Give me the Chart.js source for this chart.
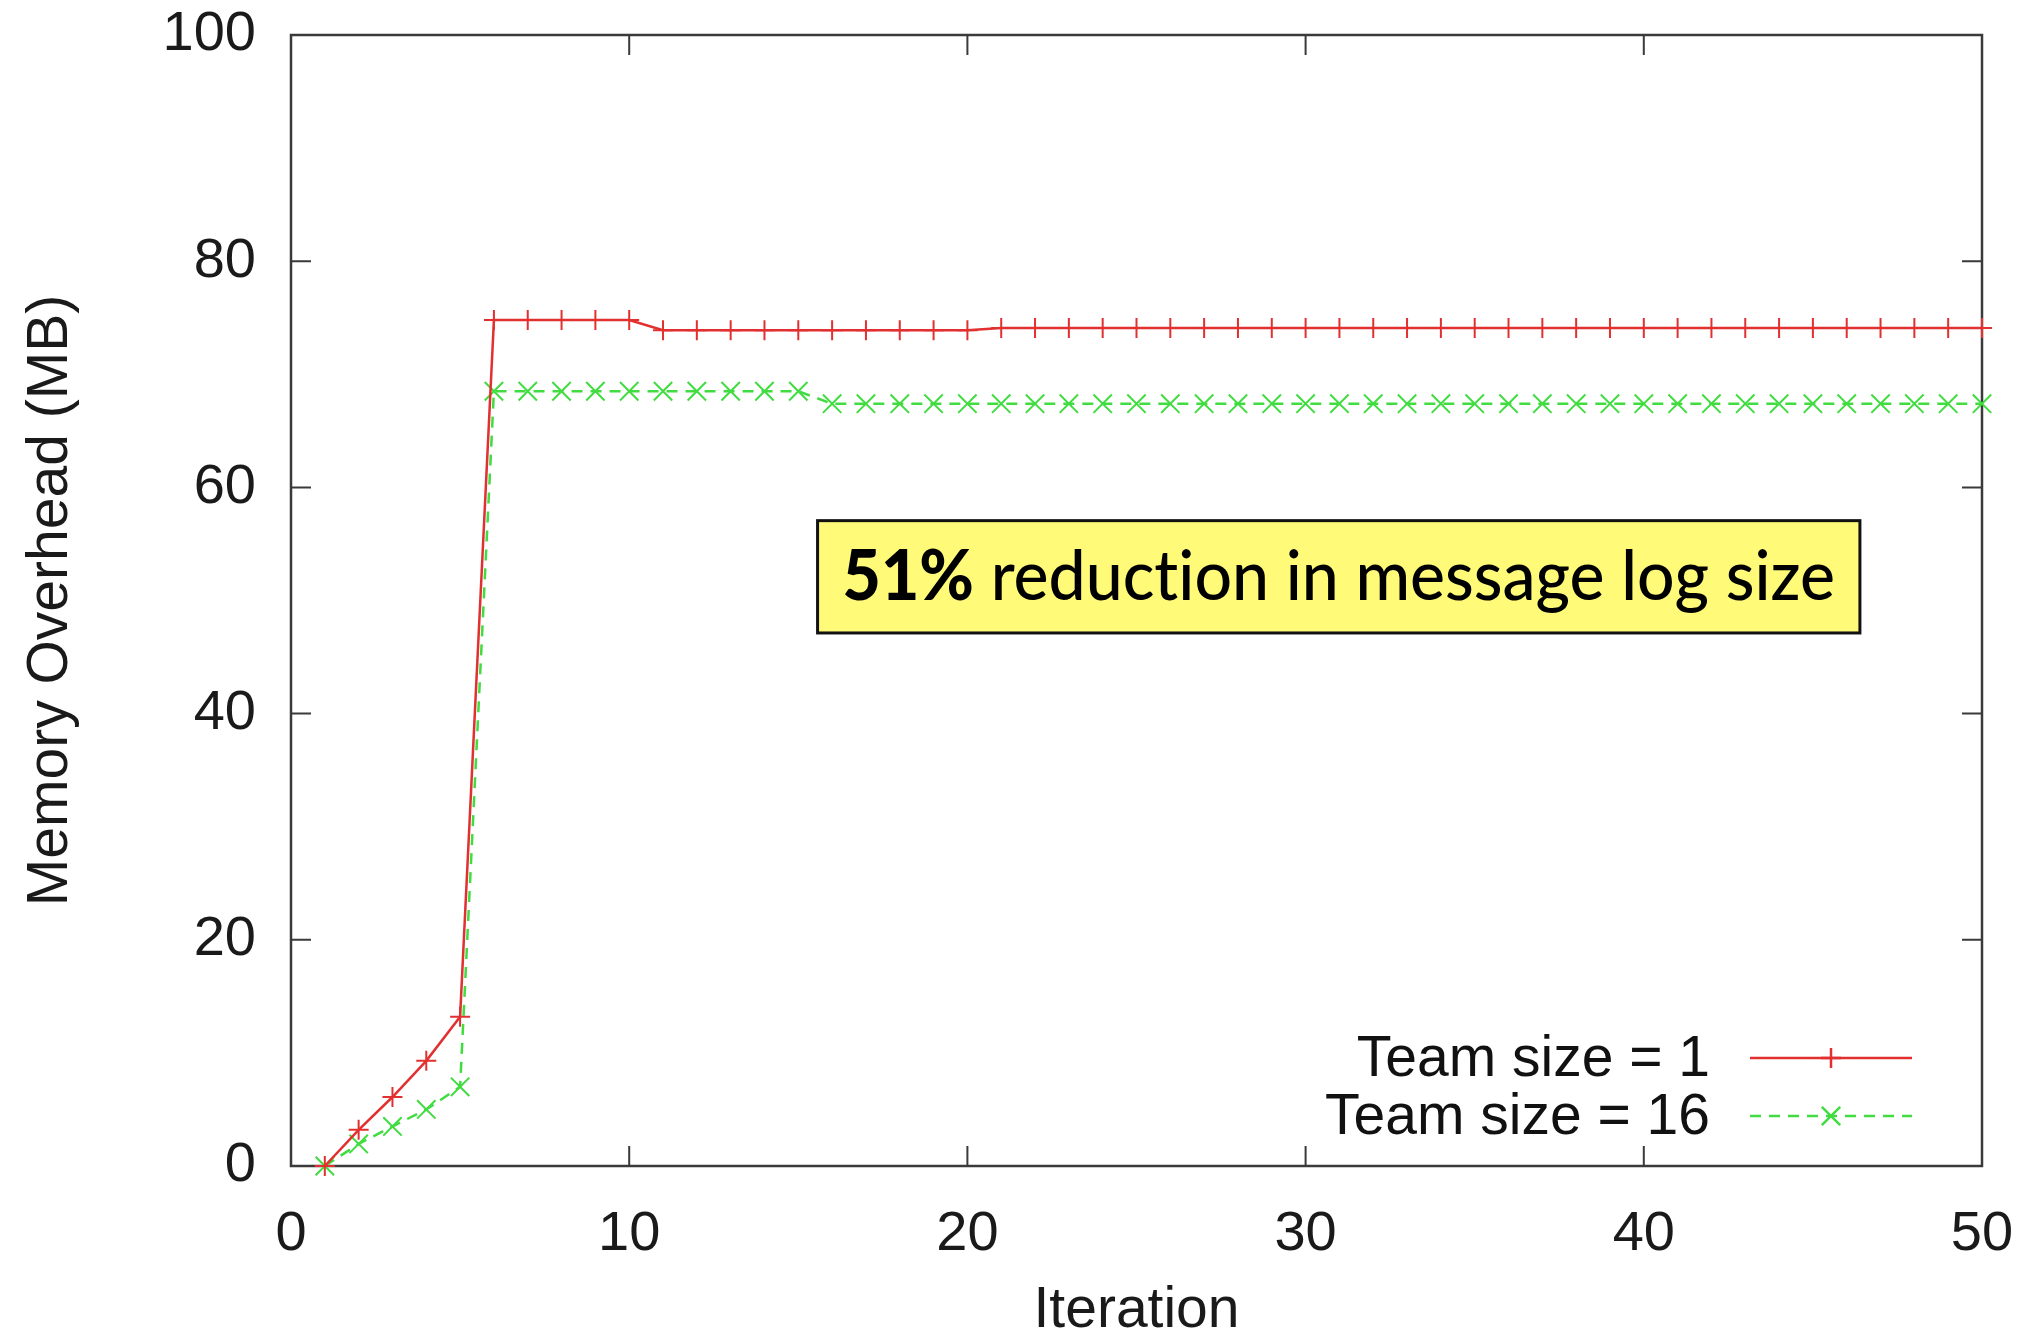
<!DOCTYPE html>
<html>
<head>
<meta charset="utf-8">
<script src="https://cdn.jsdelivr.net/npm/chart.js@4.4.1/dist/chart.umd.min.js"></script>
<style>
  html, body { margin: 0; padding: 0; background: #fff; }
  #wrap { width: 2034px; height: 1340px; }
</style>
</head>
<body>
<div id="wrap"><canvas id="chart" width="2034" height="1340"></canvas></div>
<script>
// data
const iterations = [1, 2, 3, 4, 5, 6, 7, 8, 9, 10,
  11, 12, 13, 14, 15, 16, 17, 18, 19, 20,
  21, 22, 23, 24, 25, 26, 27, 28, 29, 30,
  31, 32, 33, 34, 35, 36, 37, 38, 39, 40,
  41, 42, 43, 44, 45, 46, 47, 48, 49, 50];

const teamSize1 = [0, 3.2, 6.1, 9.3, 13.2, 74.8, 74.8, 74.8, 74.8, 74.8,
  73.9, 73.9, 73.9, 73.9, 73.9, 73.9, 73.9, 73.9, 73.9, 73.9,
  74.1, 74.1, 74.1, 74.1, 74.1, 74.1, 74.1, 74.1, 74.1, 74.1,
  74.1, 74.1, 74.1, 74.1, 74.1, 74.1, 74.1, 74.1, 74.1, 74.1,
  74.1, 74.1, 74.1, 74.1, 74.1, 74.1, 74.1, 74.1, 74.1, 74.1];

const teamSize16 = [0, 1.95, 3.5, 5.0, 7.0, 68.5, 68.5, 68.5, 68.5, 68.5,
  68.5, 68.5, 68.5, 68.5, 68.5, 67.4, 67.4, 67.4, 67.4, 67.4,
  67.4, 67.4, 67.4, 67.4, 67.4, 67.4, 67.4, 67.4, 67.4, 67.4,
  67.4, 67.4, 67.4, 67.4, 67.4, 67.4, 67.4, 67.4, 67.4, 67.4,
  67.4, 67.4, 67.4, 67.4, 67.4, 67.4, 67.4, 67.4, 67.4, 67.4];

const seriesNames = ['Team size = 1', 'Team size = 16'];
const xTickValues = [0, 10, 20, 30, 40, 50];
const yTickValues = [0, 20, 40, 60, 80, 100];

const noteBold = '51%';
const noteText = ' reduction in message log size';

const RED = '#e23030';
const GREEN = '#40dc40';
const FONT = 'Liberation Sans, Arial, Helvetica, sans-serif';

// gnuplot style frame: box with inward ticks, mirrored
const framePlugin = {
  id: 'frame',
  beforeDatasetsDraw(chart) {
    const { ctx, chartArea: a, scales } = chart;
    const len = 20;
    ctx.save();
    ctx.strokeStyle = '#3a3a3a';
    ctx.lineWidth = 2.5;
    ctx.strokeRect(a.left, a.top, a.right - a.left, a.bottom - a.top);
    ctx.lineWidth = 2;
    ctx.beginPath();
    xTickValues.forEach(v => {
      const px = scales.x.getPixelForValue(v);
      ctx.moveTo(px, a.bottom); ctx.lineTo(px, a.bottom - len);
      ctx.moveTo(px, a.top); ctx.lineTo(px, a.top + len);
    });
    yTickValues.forEach(v => {
      const py = scales.y.getPixelForValue(v);
      ctx.moveTo(a.left, py); ctx.lineTo(a.left + len, py);
      ctx.moveTo(a.right, py); ctx.lineTo(a.right - len, py);
    });
    ctx.stroke();
    ctx.restore();
  }
};

function drawMarker(ctx, style, x, y, r) {
  ctx.beginPath();
  if (style === 'cross') {
    ctx.moveTo(x - r, y); ctx.lineTo(x + r, y);
    ctx.moveTo(x, y - r); ctx.lineTo(x, y + r);
  } else {
    const d = r * Math.SQRT1_2;
    ctx.moveTo(x - d, y - d); ctx.lineTo(x + d, y + d);
    ctx.moveTo(x - d, y + d); ctx.lineTo(x + d, y - d);
  }
  ctx.setLineDash([]);
  ctx.stroke();
}

// legend in the lower right, text then line sample
const keyPlugin = {
  id: 'key',
  afterDraw(chart) {
    const { ctx, chartArea: a } = chart;
    const rows = [a.bottom - 108, a.bottom - 50];
    ctx.save();
    ctx.font = '57px ' + FONT;
    ctx.textAlign = 'right';
    ctx.textBaseline = 'middle';
    chart.data.datasets.forEach((ds, i) => {
      const y = rows[i];
      ctx.fillStyle = '#111';
      ctx.fillText(ds.label, a.right - 272, y + 2);
      const x0 = a.right - 232, x1 = a.right - 70;
      ctx.strokeStyle = ds.borderColor;
      ctx.lineWidth = ds.borderWidth;
      ctx.setLineDash(ds.borderDash || []);
      ctx.beginPath();
      ctx.moveTo(x0, y); ctx.lineTo(x1, y);
      ctx.stroke();
      drawMarker(ctx, ds.pointStyle, (x0 + x1) / 2, y, ds.pointRadius);
    });
    ctx.restore();
  }
};

// yellow call-out box, placed in data coordinates
const noteBox = { x0: 15.57, x1: 46.39, y0: 57.06, y1: 47.13 };
const notePlugin = {
  id: 'note',
  afterDraw(chart) {
    const { ctx, scales } = chart;
    const l = scales.x.getPixelForValue(noteBox.x0);
    const r = scales.x.getPixelForValue(noteBox.x1);
    const t = scales.y.getPixelForValue(noteBox.y0);
    const b = scales.y.getPixelForValue(noteBox.y1);
    ctx.save();
    ctx.fillStyle = '#fffa78';
    ctx.fillRect(l, t, r - l, b - t);
    ctx.strokeStyle = '#111';
    ctx.lineWidth = 3;
    ctx.strokeRect(l, t, r - l, b - t);

    if ('textRendering' in ctx) ctx.textRendering = 'optimizeSpeed';
    const boldFont = '900 70px Lato, "Noto Sans", sans-serif';
    const regFont = '500 70px Lato, "Noto Sans", sans-serif';
    ctx.font = boldFont;
    const wBold = ctx.measureText(noteBold).width;
    ctx.font = regFont;
    const wReg = ctx.measureText(noteText).width;
    const target = r - l - 50;
    const sx = target / (wBold + wReg);
    ctx.translate(l + 25, t + 79);
    ctx.scale(sx, 1);
    ctx.fillStyle = '#000';
    ctx.textBaseline = 'alphabetic';
    ctx.textAlign = 'left';
    ctx.font = boldFont;
    ctx.fillText(noteBold, 0, 0);
    ctx.font = regFont;
    ctx.fillText(noteText, wBold, 0);
    ctx.restore();
  }
};

const tickFont = { family: FONT, size: 56 };
const titleFont = { family: FONT, size: 57, lineHeight: 1 };

new Chart(document.getElementById('chart').getContext('2d'), {
  type: 'line',
  data: {
    datasets: [
      {
        label: seriesNames[0],
        data: iterations.map((it, i) => ({ x: it, y: teamSize1[i] })),
        borderColor: RED,
        backgroundColor: RED,
        borderWidth: 2.5,
        pointStyle: 'cross',
        pointRadius: 10,
        pointBorderWidth: 2,
        pointBorderColor: RED,
        fill: false,
        tension: 0,
        clip: false
      },
      {
        label: seriesNames[1],
        data: iterations.map((it, i) => ({ x: it, y: teamSize16[i] })),
        borderColor: GREEN,
        backgroundColor: GREEN,
        borderWidth: 2.5,
        borderDash: [11, 8],
        pointStyle: 'crossRot',
        pointRadius: 13,
        pointBorderWidth: 2,
        pointBorderColor: GREEN,
        fill: false,
        tension: 0,
        clip: false
      }
    ]
  },
  options: {
    responsive: false,
    animation: false,
    layout: { padding: { top: 35, right: 52, left: 0, bottom: 0 } },
    plugins: {
      legend: { display: false },
      tooltip: { enabled: false }
    },
    scales: {
      x: {
        type: 'linear',
        min: 0,
        max: 50,
        afterFit: (scale) => {
          scale.height = 174;
          scale.paddingLeft = 0;
          scale.paddingRight = 0;
        },
        afterBuildTicks: (scale) => { scale.ticks = xTickValues.map(v => ({ value: v })); },
        ticks: { font: tickFont, color: '#1a1a1a', padding: 27, maxRotation: 0 },
        grid: { display: false },
        border: { display: false },
        title: { display: true, text: 'Iteration', font: titleFont, color: '#1a1a1a', padding: 0 }
      },
      y: {
        type: 'linear',
        min: 0,
        max: 100,
        afterFit: (scale) => {
          scale.width = 291;
          scale.paddingTop = 0;
          scale.paddingBottom = 0;
        },
        afterBuildTicks: (scale) => { scale.ticks = yTickValues.map(v => ({ value: v })); },
        ticks: { font: tickFont, color: '#1a1a1a', padding: 27 },
        grid: { display: false },
        border: { display: false },
        title: { display: true, text: 'Memory Overhead (MB)', font: titleFont, color: '#1a1a1a', padding: { top: 23, bottom: 0 } }
      }
    }
  },
  plugins: [framePlugin, notePlugin, keyPlugin]
});
</script>
</body>
</html>
